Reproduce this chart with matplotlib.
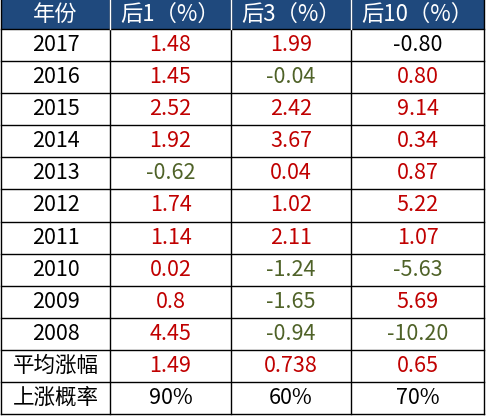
import matplotlib
matplotlib.use("Agg")
import matplotlib.pyplot as plt
from matplotlib.patches import Rectangle

plt.rcParams['font.family'] = ['Noto Sans CJK SC', 'DejaVu Sans']

headers = ["年份", "后1（%）", "后3（%）", "后10（%）"]
years = ["2017","2016","2015","2014","2013","2012","2011","2010","2009","2008","平均涨幅","上涨概率"]
after1 = ["1.48","1.45","2.52","1.92","-0.62","1.74","1.14","0.02","0.8","4.45","1.49","90%"]
after3 = ["1.99","-0.04","2.42","3.67","0.04","1.02","2.11","-1.24","-1.65","-0.94","0.738","60%"]
after10 = ["-0.80","0.80","9.14","0.34","0.87","5.22","1.07","-5.63","5.69","-10.20","0.65","70%"]

RED, GREEN, BLACK = "#c00000", "#4f6228", "#000000"
def color(s, i):
    if i == len(years) - 1:
        return BLACK
    if s == "-0.80":
        return BLACK
    return GREEN if s.startswith("-") else RED

W, H = 486, 416
fig = plt.figure(figsize=(W/100, H/100), dpi=100)
ax = fig.add_axes([0, 0, 1, 1])
ax.set_xlim(0, W); ax.set_ylim(H, 0); ax.axis("off")

xs = [1, 110, 231, 351, 484]
hh = 29
rh = (H - 2 - hh) / len(years)

ax.add_patch(Rectangle((xs[0], 0), xs[-1]-xs[0], hh, color="#1f497d", lw=0))
for j, h in enumerate(headers):
    ax.text((xs[j]+xs[j+1])/2, hh/2, h, color="white", fontsize=16, ha="center", va="center")

cols = [years, after1, after3, after10]
for i in range(len(years)):
    yc = hh + rh*(i+0.5)
    for j, col in enumerate(cols):
        c = BLACK if j == 0 else color(col[i], i)
        ax.text((xs[j]+xs[j+1])/2, yc, col[i], color=c, fontsize=15.5, ha="center", va="center")

for i in range(len(years)+1):
    y = hh + rh*i
    ax.plot([xs[0], xs[-1]], [y, y], color="black", lw=1)
for x in xs:
    ax.plot([x, x], [0, H-2], color="black", lw=1)
for x in xs[1:-1]:
    ax.plot([x, x], [0, hh], color="white", lw=1)

fig.savefig("out.png", dpi=100)
